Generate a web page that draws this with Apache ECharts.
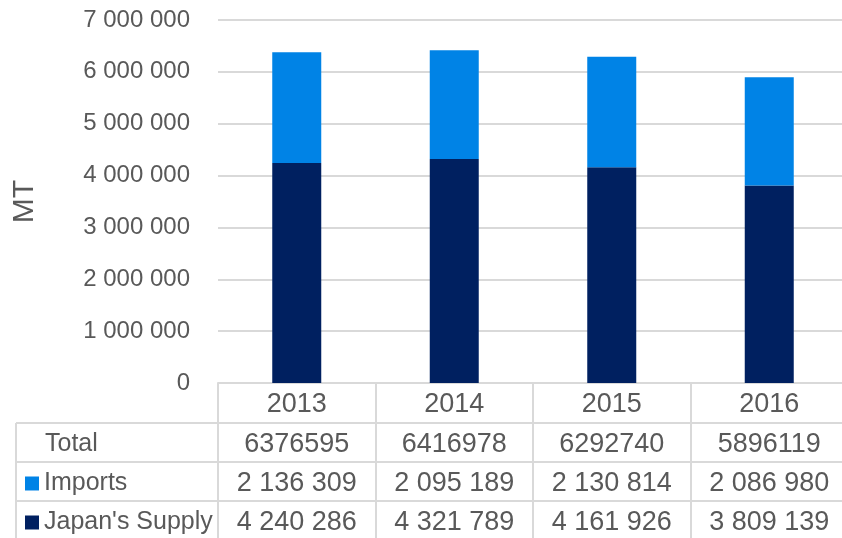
<!DOCTYPE html>
<html>
<head>
<meta charset="utf-8">
<script src="https://cdn.jsdelivr.net/npm/echarts@6/dist/echarts.min.js"></script>
<style>html,body{margin:0;padding:0;background:#fff}#c{width:842px;height:538px}</style>
</head>
<body>
<div id="c"></div>
<script>
const years = ['2013', '2014', '2015', '2016'];
const imports = [2136309, 2095189, 2130814, 2086980];
const japanSupply = [4240286, 4321789, 4161926, 3809139];
const totals = [6376595, 6416978, 6292740, 5896119];
const yTicks = [0, 1000000, 2000000, 3000000, 4000000, 5000000, 6000000, 7000000];

const FONT = 'Liberation Sans';
const TXT = '#595959';
const LINE = '#d9d9d9';
const fmt = n => String(n).replace(/\B(?=(\d{3})+(?!\d))/g, ' ');

function rowAxis(offset, tickLen, labels) {
  return {
    type: 'category', position: 'bottom', offset: offset, gridIndex: 0,
    data: years,
    axisLine: { show: true, lineStyle: { color: LINE, width: 2 } },
    axisTick: { show: true, interval: 0, length: tickLen, lineStyle: { color: LINE, width: 2 } },
    axisLabel: { interval: 0, margin: 8, fontFamily: FONT, fontSize: 27, color: TXT,
      formatter: (v, i) => labels[i] }
  };
}

const chart = echarts.init(document.getElementById('c'), null, { renderer: 'canvas' });
chart.setOption({
  animation: false,
  textStyle: { fontFamily: FONT },
  grid: { left: 218, right: -6, top: 20, bottom: 155, containLabel: false, outerBoundsMode: 'none' },
  legend: {
    data: ['Imports', "Japan's Supply"],
    orient: 'vertical', left: 25, top: 471, padding: 0,
    itemWidth: 14, itemHeight: 14, itemGap: 14, icon: 'rect',
    selectedMode: false,
    textStyle: { fontFamily: FONT, fontSize: 25, color: TXT, padding: [0, 0, 0, 0] }
  },
  xAxis: [
    rowAxis(0, 40, years),
    rowAxis(40, 39, totals.map(String)),
    rowAxis(79, 39, imports.map(fmt)),
    rowAxis(118, 40, japanSupply.map(fmt))
  ],
  yAxis: {
    type: 'value', min: yTicks[0], max: yTicks[yTicks.length - 1], interval: 1000000,
    name: 'MT', nameLocation: 'middle', nameRotate: 90, nameGap: 178,
    nameTextStyle: { fontFamily: FONT, fontSize: 30, color: TXT },
    axisLine: { show: false }, axisTick: { show: false },
    axisLabel: { margin: 28, fontFamily: FONT, fontSize: 24, color: TXT, formatter: v => fmt(v) },
    splitLine: { lineStyle: { color: LINE, width: 2 } }
  },
  series: [
    { name: "Japan's Supply", type: 'bar', stack: 'a', xAxisIndex: 0, data: japanSupply,
      barWidth: 49, itemStyle: { color: '#002060' } },
    { name: 'Imports', type: 'bar', stack: 'a', xAxisIndex: 0, data: imports,
      barWidth: 49, itemStyle: { color: '#0083E6' } }
  ],
  graphic: [
    { type: 'line', shape: { x1: 16, y1: 423, x2: 218, y2: 423 }, style: { stroke: LINE, lineWidth: 2 } },
    { type: 'line', shape: { x1: 16, y1: 462, x2: 218, y2: 462 }, style: { stroke: LINE, lineWidth: 2 } },
    { type: 'line', shape: { x1: 16, y1: 501, x2: 218, y2: 501 }, style: { stroke: LINE, lineWidth: 2 } },
    { type: 'line', shape: { x1: 16, y1: 423, x2: 16, y2: 540 }, style: { stroke: LINE, lineWidth: 2 } },
    { type: 'text', left: 45, top: 432, style: { text: 'Total', font: '25px "Liberation Sans"', fill: TXT } }
  ]
});
</script>
</body>
</html>
